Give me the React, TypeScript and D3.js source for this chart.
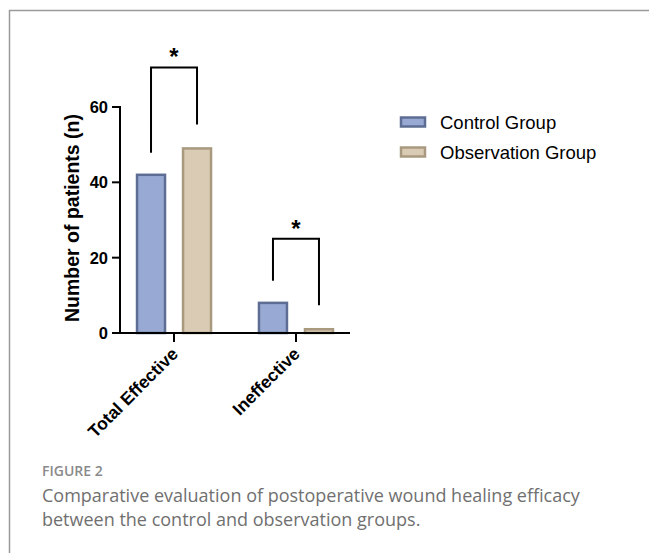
import React from 'react';
import * as d3 from 'd3';

const categories = ['Total Effective', 'Ineffective'];
const groups = ['Control Group', 'Observation Group'];
const controlValues = [42, 8];
const observationValues = [49, 1];
const yTicks = [0, 20, 40, 60];
// significance brackets: top of the bracket (in y units) and label
const bracketTops = [70.5, 25];
const sigLabels = ['*', '*'];

const fills = ['#98aad4', '#d9cbb4'];
const strokes = ['#5d6d93', '#a8997f'];

const W = 649;
const H = 553;

const App: React.FC = () => {
  const y = d3.scaleLinear().domain([0, 60]).range([333, 107]);
  const x = d3.scalePoint<string>().domain(categories).range([120, 350]).padding(0.443);
  const sub = d3.scaleBand<string>().domain(groups).range([-38, 38]).paddingInner(0.348);

  const series = [controlValues, observationValues];
  const chartFont = '"Liberation Sans", Arial, sans-serif';

  return (
    <svg width={W} height={H} style={{ position: 'absolute', left: 0, top: 0, background: '#fff' }}>
      {/* frame */}
      <path d={`M9.5,${H} V10.5 H${W}`} fill="none" stroke="#9a9a9a" strokeWidth={1.5} />

      <g fontFamily={chartFont}>
        {/* bars */}
        {series.map((vals, si) =>
          vals.map((v, ci) => (
            <rect
              key={`${si}-${ci}`}
              x={(x(categories[ci]) as number) + (sub(groups[si]) as number) + 1}
              y={y(v)}
              width={sub.bandwidth() - 2}
              height={y(0) - y(v)}
              fill={fills[si]}
              stroke={strokes[si]}
              strokeWidth={2.5}
            />
          ))
        )}

        {/* y axis */}
        <line x1={120} x2={120} y1={y(0)} y2={y(60) - 1} stroke="#000" strokeWidth={2} />
        {yTicks.map(t => (
          <g key={t}>
            <line x1={112} x2={120} y1={y(t)} y2={y(t)} stroke="#000" strokeWidth={2} />
            <text x={108} y={y(t)} dy="0.36em" textAnchor="end" fontSize={16.5} fontWeight="bold">
              {t}
            </text>
          </g>
        ))}
        <text
          transform={`translate(78.5,${(y(0) + y(60)) / 2 - 2}) rotate(-90)`}
          textAnchor="middle"
          fontSize={19.5}
          fontWeight="bold"
        >
          Number of patients (n)
        </text>

        {/* x axis */}
        <line x1={119} x2={350} y1={y(0)} y2={y(0)} stroke="#000" strokeWidth={2} />
        {categories.map(c => (
          <g key={c}>
            <line x1={x(c)} x2={x(c)} y1={y(0)} y2={y(0) + 9} stroke="#000" strokeWidth={2} />
            <text
              transform={`translate(${(x(c) as number) + 5},${y(0) + 22}) rotate(-45)`}
              textAnchor="end"
              fontSize={17.5}
              fontWeight="bold"
            >
              {c}
            </text>
          </g>
        ))}

        {/* significance brackets */}
        {categories.map((c, ci) => {
          const xl = (x(c) as number) + (sub(groups[0]) as number) + sub.bandwidth() / 2;
          const xr = (x(c) as number) + (sub(groups[1]) as number) + sub.bandwidth() / 2;
          const top = y(bracketTops[ci]);
          return (
            <g key={c}>
              <path
                d={`M${xl},${y(controlValues[ci]) - 22} V${top} H${xr} V${y(observationValues[ci]) - 24}`}
                fill="none"
                stroke="#000"
                strokeWidth={2}
              />
              <text x={(xl + xr) / 2} y={top - 2} textAnchor="middle" fontSize={24} fontWeight="bold">
                {sigLabels[ci]}
              </text>
            </g>
          );
        })}

        {/* legend */}
        {groups.map((g, i) => (
          <g key={g} transform={`translate(401,${122 + i * 30})`}>
            <rect x={0} y={-4.5} width={24} height={9} fill={fills[i]} stroke={strokes[i]} strokeWidth={2.5} />
            <text x={39} y={0} dy="0.36em" fontSize={18.5}>
              {g}
            </text>
          </g>
        ))}
      </g>

      {/* caption */}
      <g fontFamily='"Open Sans", "Noto Sans", sans-serif'>
        <text x={42} y={476} fontSize={14} fill="#8a8a8a" fontWeight={600}>
          FIGURE 2
        </text>
        <text x={42} y={502} fontSize={18} fill="#707070">
          Comparative evaluation of postoperative wound healing efficacy
        </text>
        <text x={42} y={526} fontSize={18} fill="#707070">
          between the control and observation groups.
        </text>
      </g>
    </svg>
  );
};

export default App;
